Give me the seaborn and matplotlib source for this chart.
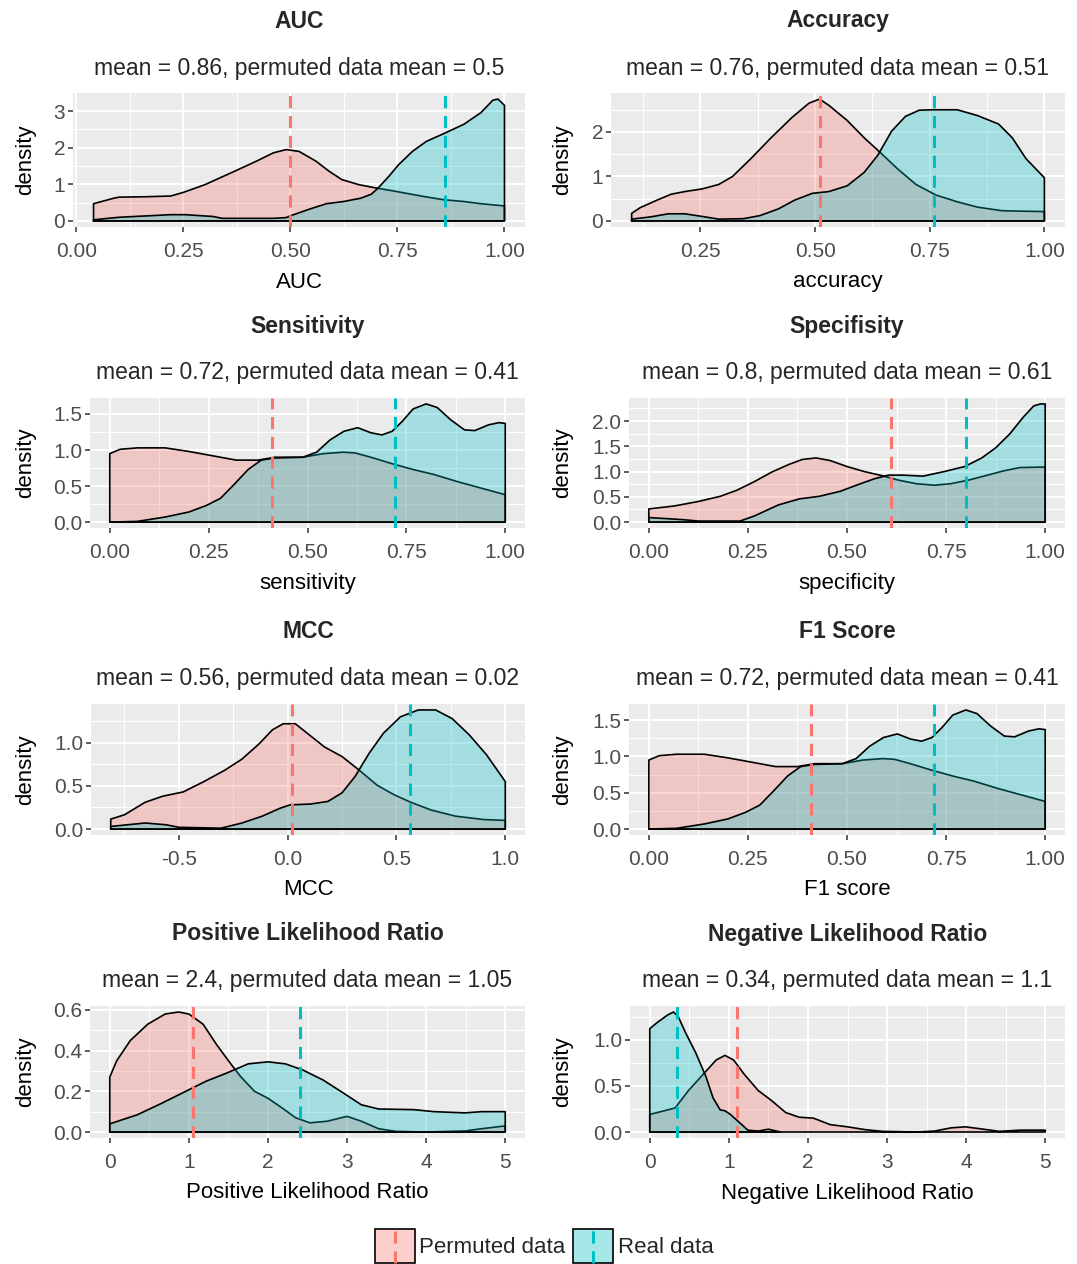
import matplotlib
matplotlib.use("Agg")
import matplotlib.pyplot as plt
import seaborn as sns
from matplotlib.colors import to_rgba
from matplotlib.patches import Rectangle
from matplotlib.lines import Line2D
from matplotlib.legend_handler import HandlerBase
from matplotlib.ticker import FixedLocator, MultipleLocator, FormatStrFormatter

# ---- density curves (x, density) ----
# AUC
auc_perm_x = [0.04, 0.087, 0.1, 0.16, 0.22, 0.25, 0.30, 0.37, 0.42, 0.46, 0.49, 0.52, 0.56, 0.59,
              0.62, 0.66, 0.70, 0.745, 0.81, 0.857, 0.905, 0.945, 1.0]
auc_perm_y = [0.47, 0.62, 0.65, 0.66, 0.68, 0.78, 0.99, 1.36, 1.63, 1.86, 1.95, 1.9, 1.63, 1.36,
              1.13, 0.99, 0.9, 0.81, 0.67, 0.58, 0.53, 0.47, 0.41]
auc_real_x = [0.04, 0.1, 0.22, 0.255, 0.32, 0.34, 0.46, 0.49, 0.5, 0.544, 0.584, 0.624, 0.664, 0.689,
              0.705, 0.73, 0.753, 0.785, 0.817, 0.857, 0.905, 0.945, 0.973, 0.985, 1.0]
auc_real_y = [0.03, 0.1, 0.17, 0.17, 0.12, 0.07, 0.07, 0.09, 0.14, 0.32, 0.47, 0.53, 0.62, 0.73,
              0.9, 1.22, 1.54, 1.9, 2.17, 2.38, 2.64, 2.96, 3.3, 3.33, 3.16]

# Accuracy
acc_perm_x = [0.1, 0.119, 0.156, 0.186, 0.216, 0.254, 0.29, 0.32, 0.36, 0.404, 0.45, 0.487, 0.51,
              0.53, 0.57, 0.607, 0.644, 0.68, 0.72, 0.764, 0.81, 0.854, 0.907, 0.944, 1.0]
acc_perm_y = [0.17, 0.3, 0.47, 0.6, 0.66, 0.72, 0.82, 1.0, 1.4, 1.87, 2.33, 2.65, 2.74,
              2.6, 2.26, 1.87, 1.52, 1.17, 0.82, 0.58, 0.43, 0.31, 0.23, 0.22, 0.21]
acc_real_x = [0.1, 0.141, 0.18, 0.216, 0.254, 0.29, 0.344, 0.38, 0.42, 0.456, 0.494, 0.53, 0.57,
              0.607, 0.637, 0.667, 0.697, 0.727, 0.757, 0.81, 0.854, 0.9, 0.93, 0.96, 1.0]
acc_real_y = [0.04, 0.09, 0.16, 0.16, 0.1, 0.04, 0.05, 0.12, 0.27, 0.47, 0.62, 0.66, 0.79,
              1.09, 1.48, 2.02, 2.35, 2.49, 2.5, 2.5, 2.37, 2.18, 1.87, 1.4, 0.97]

# Sensitivity
sens_perm_x = [0.0, 0.026, 0.07, 0.14, 0.2, 0.26, 0.32, 0.375, 0.418, 0.488, 0.54, 0.59, 0.62,
               0.66, 0.714, 0.767, 0.82, 0.88, 0.94, 1.0]
sens_perm_y = [0.95, 1.01, 1.03, 1.03, 0.98, 0.92, 0.86, 0.86, 0.9, 0.9, 0.95, 0.97, 0.96,
               0.9, 0.81, 0.73, 0.66, 0.56, 0.47, 0.38]
sens_real_x = [0.0, 0.07, 0.14, 0.2, 0.244, 0.28, 0.314, 0.35, 0.383, 0.418, 0.488, 0.523, 0.557,
               0.592, 0.627, 0.66, 0.688, 0.714, 0.74, 0.767, 0.8, 0.828, 0.862, 0.897, 0.923,
               0.958, 0.984, 1.0]
sens_real_y = [0.0, 0.01, 0.07, 0.14, 0.23, 0.33, 0.52, 0.73, 0.86, 0.89, 0.9, 0.97, 1.14,
               1.26, 1.31, 1.24, 1.21, 1.26, 1.4, 1.57, 1.64, 1.59, 1.42, 1.28, 1.27,
               1.35, 1.38, 1.37]

# Specificity
spec_perm_x = [0.0, 0.065, 0.126, 0.18, 0.222, 0.266, 0.31, 0.353, 0.387, 0.422, 0.457, 0.5, 0.544,
               0.588, 0.63, 0.675, 0.72, 0.762, 0.806, 0.85, 0.893, 0.936, 1.0]
spec_perm_y = [0.26, 0.32, 0.41, 0.51, 0.63, 0.8, 0.99, 1.14, 1.24, 1.27, 1.22, 1.1, 1.0,
               0.92, 0.83, 0.76, 0.73, 0.76, 0.83, 0.92, 1.01, 1.08, 1.09]
spec_real_x = [0.0, 0.083, 0.126, 0.23, 0.266, 0.327, 0.38, 0.43, 0.483, 0.527, 0.57, 0.605, 0.64,
               0.692, 0.745, 0.797, 0.84, 0.875, 0.91, 0.945, 0.971, 0.988, 1.0]
spec_real_y = [0.09, 0.05, 0.02, 0.02, 0.12, 0.34, 0.46, 0.51, 0.61, 0.74, 0.86, 0.93, 0.93,
               0.91, 1.0, 1.1, 1.27, 1.47, 1.74, 2.08, 2.3, 2.34, 2.34]

# MCC
mcc_perm_x = [-0.813, -0.75, -0.655, -0.575, -0.48, -0.385, -0.29, -0.21, -0.13, -0.07, -0.02, 0.035,
              0.09, 0.17, 0.25, 0.33, 0.41, 0.487, 0.566, 0.66, 0.77, 0.9, 1.0]
mcc_perm_y = [0.115, 0.165, 0.31, 0.38, 0.43, 0.55, 0.68, 0.81, 0.99, 1.15, 1.22, 1.22,
              1.11, 0.95, 0.84, 0.68, 0.51, 0.4, 0.31, 0.22, 0.15, 0.11, 0.1]
mcc_real_x = [-0.813, -0.655, -0.56, -0.5, -0.306, -0.21, -0.116, -0.036, 0.011, 0.106, 0.185, 0.25,
              0.31, 0.375, 0.44, 0.518, 0.6, 0.68, 0.756, 0.835, 0.914, 1.0]
mcc_real_y = [0.03, 0.07, 0.05, 0.02, 0.01, 0.07, 0.15, 0.24, 0.28, 0.29, 0.32, 0.42,
              0.61, 0.88, 1.11, 1.3, 1.38, 1.38, 1.28, 1.09, 0.86, 0.55]

# F1 score (the figure shows the same curves as sensitivity)
f1_perm_x, f1_perm_y = sens_perm_x, sens_perm_y
f1_real_x, f1_real_y = sens_real_x, sens_real_y

# Positive likelihood ratio
plr_perm_x = [0.0, 0.087, 0.26, 0.48, 0.7, 0.87, 1.0, 1.18, 1.35, 1.53, 1.66, 1.83, 2.0, 2.18, 2.35,
              2.53, 2.75, 3.0, 3.18, 3.4, 3.62, 4.0, 4.49, 4.7, 5.0]
plr_perm_y = [0.27, 0.35, 0.45, 0.53, 0.58, 0.59, 0.58, 0.53, 0.43, 0.335, 0.27, 0.2, 0.166, 0.118,
              0.07, 0.045, 0.053, 0.077, 0.053, 0.016, 0.003, 0.0, 0.005, 0.016, 0.03]
plr_real_x = [0.0, 0.35, 0.65, 0.96, 1.22, 1.48, 1.75, 2.0, 2.22, 2.44, 2.7, 2.96, 3.18, 3.4, 3.84,
              4.1, 4.49, 4.7, 5.0]
plr_real_y = [0.04, 0.085, 0.14, 0.2, 0.25, 0.29, 0.335, 0.345, 0.335, 0.305, 0.255, 0.19, 0.134,
              0.113, 0.11, 0.1, 0.094, 0.1, 0.1]

# Negative likelihood ratio
nlr_perm_x = [0.0, 0.32, 0.49, 0.67, 0.84, 0.95, 1.06, 1.19, 1.37, 1.54, 1.72, 1.89, 2.07, 2.28, 2.5,
              2.72, 2.94, 3.38, 3.6, 3.81, 3.99, 4.16, 4.42, 4.69, 5.0]
nlr_perm_y = [0.19, 0.26, 0.45, 0.62, 0.78, 0.83, 0.78, 0.63, 0.45, 0.34, 0.21, 0.16, 0.15, 0.08,
              0.056, 0.026, 0.007, 0.0, 0.01, 0.045, 0.056, 0.037, 0.007, 0.02, 0.02]
nlr_real_x = [0.0, 0.1, 0.23, 0.3, 0.36, 0.45, 0.58, 0.71, 0.8, 0.89, 0.95, 1.02, 1.15, 1.24, 1.37,
              1.5, 1.65]
nlr_real_y = [1.12, 1.19, 1.27, 1.3, 1.25, 1.08, 0.86, 0.6, 0.37, 0.24, 0.23, 0.19, 0.09, 0.02, 0.01,
              0.03, 0.0]

# means shown in the subtitles / dashed lines
real_means = [0.86, 0.76, 0.72, 0.8, 0.56, 0.72, 2.4, 0.34]
perm_means = [0.5, 0.51, 0.41, 0.61, 0.02, 0.41, 1.05, 1.1]

titles = ['AUC', 'Accuracy', 'Sensitivity', 'Specifisity', 'MCC', 'F1 Score',
          'Positive Likelihood Ratio', 'Negative Likelihood Ratio']
xlabels = ['AUC', 'accuracy', 'sensitivity', 'specificity', 'MCC', 'F1 score',
           'Positive Likelihood Ratio', 'Negative Likelihood Ratio']
legend_labels = ['Permuted data', 'Real data']

PERM_COLOR = '#F8766D'
REAL_COLOR = '#00BFC4'
W, H = 1077, 1264

sns.set_theme(style='darkgrid', rc={
    'axes.facecolor': '#EBEBEB',
    'grid.color': 'white',
    'xtick.bottom': True, 'ytick.left': True,
    'xtick.major.size': 3.5, 'ytick.major.size': 3.5,
    'xtick.major.width': 1.1, 'ytick.major.width': 1.1,
    'xtick.minor.size': 0, 'ytick.minor.size': 0,
    'xtick.color': '#333333', 'ytick.color': '#333333',
    'xtick.labelcolor': '#4D4D4D', 'ytick.labelcolor': '#4D4D4D',
    'axes.unicode_minus': False,
})
plt.rcParams['font.family'] = ['Liberation Sans', 'DejaVu Sans']

fig = plt.figure(figsize=(W / 100, H / 100), dpi=100)

# panel boxes in pixels: left, top, right, bottom (grey area)
panels = [
    dict(box=(73, 93, 525, 227), perm=(auc_perm_x, auc_perm_y), real=(auc_real_x, auc_real_y),
         xt=[0, 0.25, 0.5, 0.75, 1.0], xf='%.2f', yt=[0, 1, 2, 3], yf='%d'),
    dict(box=(611, 93, 1065, 227), perm=(acc_perm_x, acc_perm_y), real=(acc_real_x, acc_real_y),
         xt=[0.25, 0.5, 0.75, 1.0], xf='%.2f', yt=[0, 1, 2], yf='%d'),
    dict(box=(90, 398, 525, 528), perm=(sens_perm_x, sens_perm_y), real=(sens_real_x, sens_real_y),
         xt=[0, 0.25, 0.5, 0.75, 1.0], xf='%.2f', yt=[0, 0.5, 1.0, 1.5], yf='%.1f'),
    dict(box=(629, 398, 1065, 528), perm=(spec_perm_x, spec_perm_y), real=(spec_real_x, spec_real_y),
         xt=[0, 0.25, 0.5, 0.75, 1.0], xf='%.2f', yt=[0, 0.5, 1.0, 1.5, 2.0], yf='%.1f'),
    dict(box=(91, 704, 525, 835), perm=(mcc_perm_x, mcc_perm_y), real=(mcc_real_x, mcc_real_y),
         xt=[-0.5, 0, 0.5, 1.0], xf='%.1f', yt=[0, 0.5, 1.0], yf='%.1f'),
    dict(box=(629, 704, 1065, 835), perm=(f1_perm_x, f1_perm_y), real=(f1_real_x, f1_real_y),
         xt=[0, 0.25, 0.5, 0.75, 1.0], xf='%.2f', yt=[0, 0.5, 1.0, 1.5], yf='%.1f'),
    dict(box=(90, 1006, 525, 1138), perm=(plr_perm_x, plr_perm_y), real=(plr_real_x, plr_real_y),
         xt=[0, 1, 2, 3, 4, 5], xf='%d', yt=[0, 0.2, 0.4, 0.6], yf='%.1f'),
    dict(box=(630, 1006, 1065, 1138), perm=(nlr_perm_x, nlr_perm_y), real=(nlr_real_x, nlr_real_y),
         xt=[0, 1, 2, 3, 4, 5], xf='%d', yt=[0, 0.5, 1.0], yf='%.1f'),
]

DASH = (0, (4, 2.5))


def draw_density(ax, x, y, color, z):
    ax.fill_between(x, y, 0, facecolor=to_rgba(color, 0.3), edgecolor='none', zorder=z)
    # closed outline like ggplot's geom_density polygon
    ox = [x[0]] + list(x) + [x[-1], x[0]]
    oy = [0] + list(y) + [0, 0]
    sns.lineplot(x=ox, y=oy, ax=ax, color='black', linewidth=1.2, sort=False,
                 estimator=None, zorder=z + 0.5)


for i, p in enumerate(panels):
    left, top, right, bottom = p['box']
    w, h = right - left, bottom - top
    ax = fig.add_axes([left / W, 1 - bottom / H, w / W, h / H])

    draw_density(ax, *p['perm'], PERM_COLOR, 1)
    draw_density(ax, *p['real'], REAL_COLOR, 2)
    ax.margins(x=0.05, y=0.05)

    ax.axvline(perm_means[i], color=PERM_COLOR, linestyle=DASH, linewidth=2.2, zorder=3)
    ax.axvline(real_means[i], color=REAL_COLOR, linestyle=DASH, linewidth=2.2, zorder=3)

    ax.xaxis.set_major_locator(FixedLocator(p['xt']))
    ax.yaxis.set_major_locator(FixedLocator(p['yt']))
    ax.xaxis.set_minor_locator(MultipleLocator((p['xt'][1] - p['xt'][0]) / 2))
    ax.yaxis.set_minor_locator(MultipleLocator((p['yt'][1] - p['yt'][0]) / 2))
    ax.xaxis.set_major_formatter(FormatStrFormatter(p['xf']))
    ax.yaxis.set_major_formatter(FormatStrFormatter(p['yf']))
    ax.grid(which='major', color='white', linewidth=1.4)
    ax.grid(which='minor', color='white', linewidth=0.7)
    ax.set_axisbelow(True)
    ax.tick_params(axis='x', which='major', labelsize=15, pad=7)
    ax.tick_params(axis='y', which='major', labelsize=15, pad=2)
    for s in ax.spines.values():
        s.set_visible(False)

    ax.set_xlabel(xlabels[i], fontsize=16, color='black')
    ax.xaxis.set_label_coords(0.5, -55 / h)
    ax.xaxis.label.set_va('center')
    ax.set_ylabel('density', fontsize=16, color='black')
    cell_left = 0 if left < 538 else 537
    ax.yaxis.set_label_coords((cell_left + 26 - left) / w, 0.5)
    ax.yaxis.label.set_va('center')

    cx = (left + right) / 2
    fig.text(cx / W, 1 - (top - 72) / H, titles[i], ha='center', va='center',
             fontsize=16.5, fontweight='bold')
    fig.text(cx / W, 1 - (top - 25) / H,
             f'mean = {real_means[i]:g}, permuted data mean = {perm_means[i]:g}',
             ha='center', va='center', fontsize=16.5)


class KeyHandle:
    def __init__(self, color):
        self.color = color


class KeyHandler(HandlerBase):
    def create_artists(self, legend, orig_handle, xdescent, ydescent, width, height, fontsize, trans):
        box = Rectangle((-xdescent, -ydescent), width, height, facecolor=to_rgba(orig_handle.color, 0.35),
                        edgecolor='black', linewidth=1.2, transform=trans)
        line = Line2D([-xdescent + width / 2] * 2, [-ydescent, -ydescent + height], color=orig_handle.color,
                      linestyle=DASH, linewidth=2.2, transform=trans)
        return [box, line]


handles = [KeyHandle(PERM_COLOR), KeyHandle(REAL_COLOR)]
fig.legend(handles, legend_labels, handler_map={KeyHandle: KeyHandler()},
           loc='upper center', bbox_to_anchor=(544 / W, 1 - 1229 / H), ncol=2, frameon=False,
           fontsize=16, handlelength=1.8, handleheight=2.0, handletextpad=0.2,
           columnspacing=0.35, borderpad=0, borderaxespad=0)

fig.savefig('out.png', dpi=100, facecolor='white')
